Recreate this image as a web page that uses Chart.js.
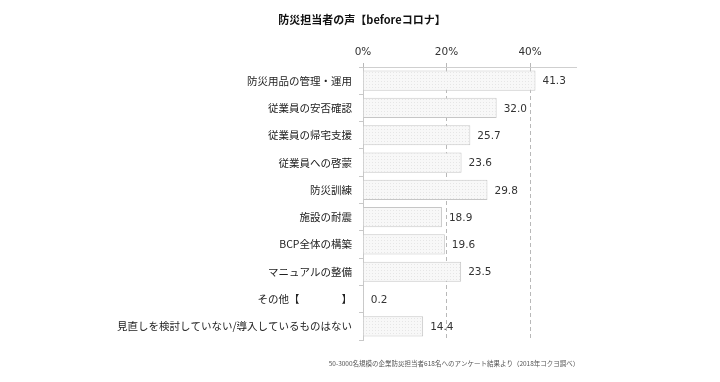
<!DOCTYPE html>
<html><head><meta charset="utf-8">
<script src="https://cdn.jsdelivr.net/npm/chart.js@4"></script>
<style>html,body{margin:0;padding:0;background:#fff;}#wrap{position:relative;width:720px;height:382px;}</style>
</head><body>
<div id="wrap"><canvas id="c" width="720" height="382"></canvas></div>
<script>
const titleText = '防災担当者の声【beforeコロナ】';
const footerText = '50-3000名規模の企業防災担当者618名へのアンケート結果より（2018年コクヨ調べ）';
const categories = ['防災用品の管理・運用','従業員の安否確認','従業員の帰宅支援','従業員への啓蒙','防災訓練','施設の耐震','BCP全体の構築','マニュアルの整備','その他【　　　　】','見直しを検討していない/導入しているものはない'];
const values = [41.3, 32.0, 25.7, 23.6, 29.8, 18.9, 19.6, 23.5, 0.2, 14.4];
const tickValues = [0, 20, 40];

function makePattern(){
  const p = document.createElement('canvas'); p.width = 3; p.height = 3;
  const g = p.getContext('2d');
  g.fillStyle = '#f8f8f8'; g.fillRect(0,0,3,3);
  g.fillStyle = '#e6e6e6'; g.fillRect(0,0,1,1);
  return document.getElementById('c').getContext('2d').createPattern(p,'repeat');
}

const valueLabels = {
  id:'valueLabels',
  afterDatasetsDraw(chart){
    const ctx = chart.ctx; const meta = chart.getDatasetMeta(0);
    ctx.save();
    ctx.font = '10.5px "DejaVu Sans", sans-serif';
    ctx.fillStyle = '#333'; ctx.textAlign = 'left'; ctx.textBaseline = 'middle';
    meta.data.forEach((bar,i)=>{
      ctx.fillText(values[i].toFixed(1), bar.x + 7, bar.y + 1);
    });
    ctx.restore();
  }
};
const texts = {
  id:'texts',
  afterDraw(chart){
    const ctx = chart.ctx; ctx.save();
    ctx.fillStyle = '#111'; ctx.textAlign = 'center'; ctx.textBaseline = 'middle';
    ctx.font = 'bold 11px "Noto Sans CJK JP", sans-serif';
    ctx.fillText(titleText, 362, 20);
    ctx.fillStyle = '#555';
    ctx.font = '6.5px "Noto Sans CJK JP", sans-serif';
    ctx.fillText(footerText, 454, 364);
    ctx.restore();
  }
};

new Chart(document.getElementById('c'), {
  type:'bar',
  data:{ labels:categories, datasets:[{ data:values, backgroundColor:makePattern(), borderColor:'#c6c6c6', borderWidth:1, borderSkipped:'start', barPercentage:0.74, categoryPercentage:1 }]},
  options:{
    indexAxis:'y', responsive:false, animation:false,
    layout:{ padding:{ top:37, bottom:42, left:0, right:144 } },
    plugins:{ legend:{display:false}, tooltip:{enabled:false} },
    scales:{
      x:{ position:'top', min:0, max:51,
        afterFit(s){ s.height = 30; },
        afterBuildTicks(s){ s.ticks = tickValues.map(v=>({value:v})); },
        ticks:{ includeBounds:false, padding:4, color:'#333', font:{family:'"DejaVu Sans", sans-serif', size:10.5}, callback:v=>v+'%' },
        grid:{ color:'#b8b8b8', tickLength:4, lineWidth:1, tickColor:'#b8b8b8' },
        border:{ display:true, color:'#cfcfcf', dash:[4,3], dashOffset:0 }
      },
      y:{
        afterFit(s){ s.width = 363; },
        ticks:{ padding:7, color:'#222', font:{family:'"Noto Sans CJK JP", sans-serif', size:10.5} },
        grid:{ offset:true, drawOnChartArea:false, tickLength:4, color:'#c8c8c8' },
        border:{ display:true, color:'#c8c8c8' }
      }
    }
  },
  plugins:[valueLabels, texts]
});
</script>
</body></html>
